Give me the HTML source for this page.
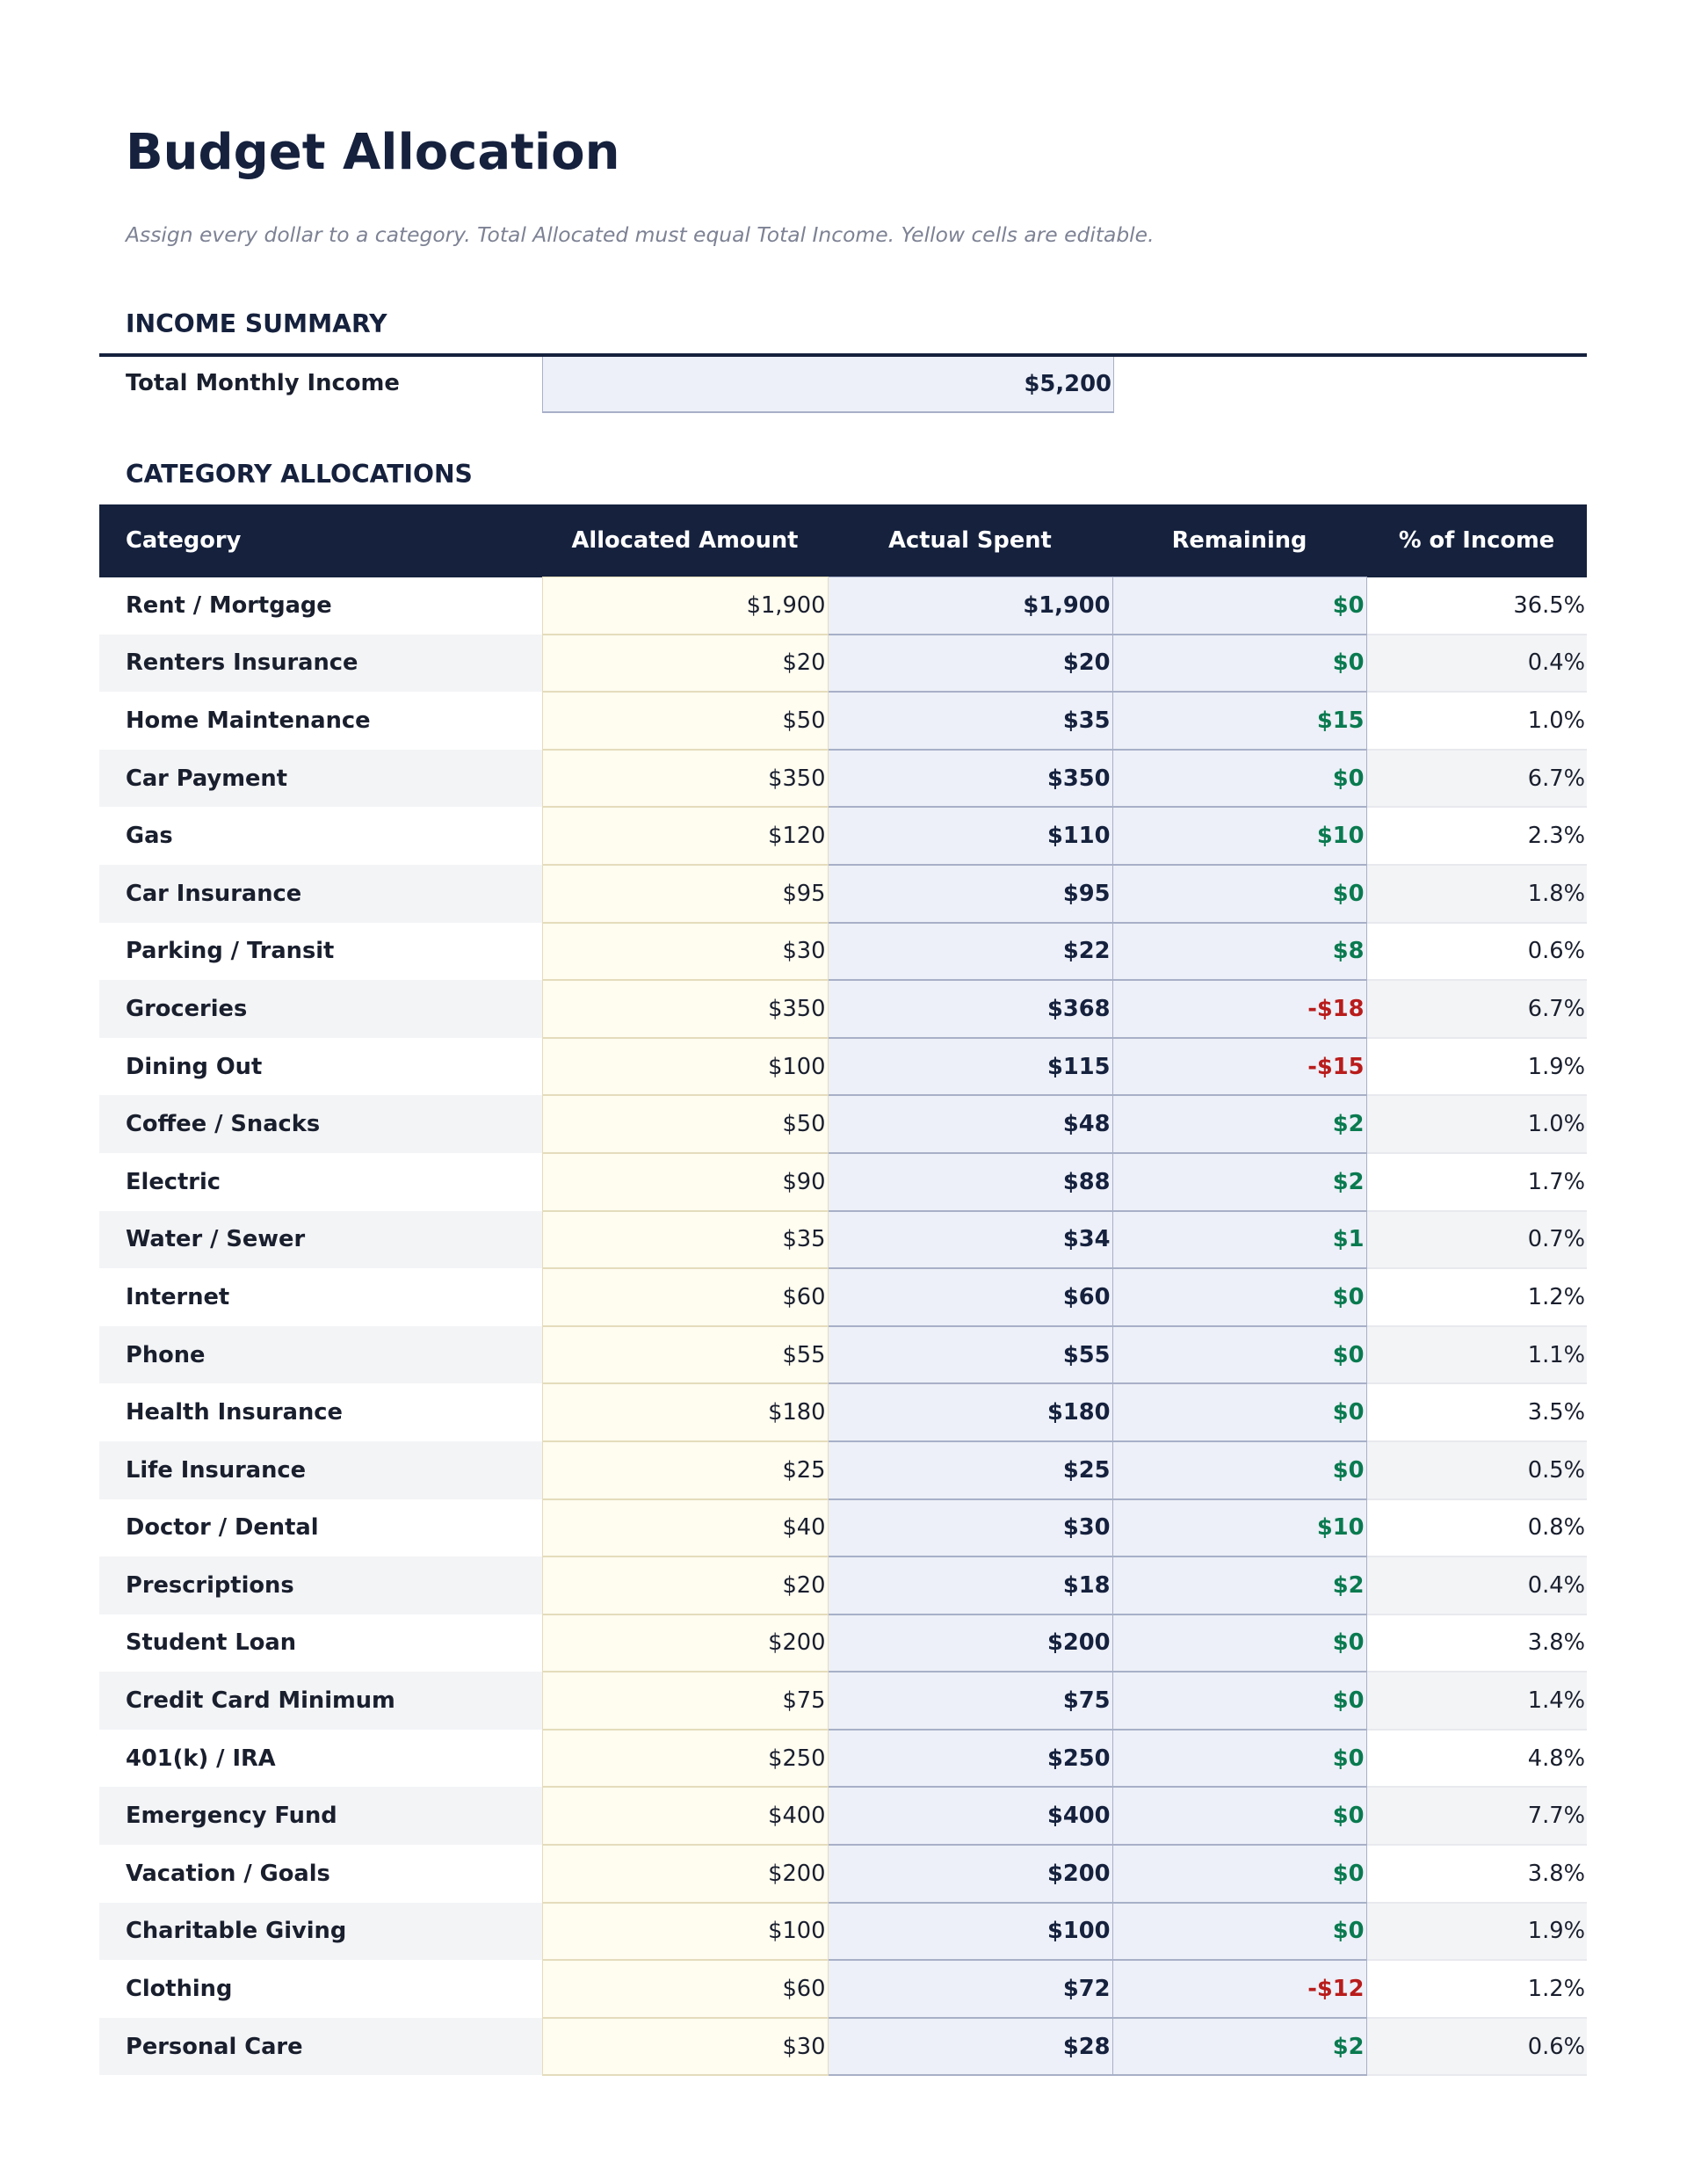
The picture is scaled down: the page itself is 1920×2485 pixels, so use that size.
<!DOCTYPE html>
<html><head><meta charset="utf-8"><style>
html,body{margin:0;padding:0;background:#fff;}
body{width:1920px;height:2485px;position:relative;font-family:"DejaVu Sans","Liberation Sans",sans-serif;color:#1a1f2e;}
.t{position:absolute;left:143px;white-space:nowrap;}
h1{position:absolute;left:143px;top:141px;margin:0;font-size:56px;font-weight:bold;color:#15213d;}
.sub{top:253px;font-size:23.4px;font-style:italic;color:#7d8294;}
.sec{font-size:28.2px;font-weight:bold;color:#15213d;}
.line{position:absolute;left:113px;width:1693px;top:402px;height:4px;background:#15213d;}
.inc{position:absolute;left:617px;top:406px;width:647px;height:62px;background:#edf0f8;border:1px solid #a8b0c8;border-top:none;border-bottom:2px solid #a8b0c8;font-size:25.8px;font-weight:bold;color:#15213d;text-align:right;line-height:62px;padding-right:2px;box-sizing:content-box;}
table{position:absolute;left:113px;top:574px;width:1693px;border-collapse:collapse;table-layout:fixed;font-size:25.7px;}
th{background:#15213d;color:#fff;height:82px;font-weight:bold;text-align:center;padding:0;}
th.c{text-align:left;padding-left:30px;}
td{height:63.6px;padding:0 2px 0 0;text-align:right;border-bottom:2px solid #e8e9ee;white-space:nowrap;}
td.c{text-align:left;padding-left:30px;font-weight:bold;}
td.a{background:#fffcf0;border:1px solid #e4dcbc;border-bottom:2px solid #e4dcbc;}
td.s{background:#edf0f8;border:1px solid #a8b0c8;border-bottom:2px solid #a8b0c8;font-weight:bold;color:#15213d;}
td.r{background:#edf0f8;border:1px solid #a8b0c8;border-bottom:2px solid #a8b0c8;font-weight:bold;color:#0a7a50;}
td.n{color:#b91c1c;}
tr.g td.c,tr.g td.p{background:#f3f4f6;}
td.c{border-bottom:none;}
</style></head><body>
<h1>Budget Allocation</h1>
<div class="t sub">Assign every dollar to a category. Total Allocated must equal Total Income. Yellow cells are editable.</div>
<div class="t sec" style="top:352px">INCOME SUMMARY</div>
<div class="line"></div>
<div class="t" style="top:421px;font-size:25.8px;font-weight:bold">Total Monthly Income</div>
<div class="inc">$5,200</div>
<div class="t sec" style="top:523px">CATEGORY ALLOCATIONS</div>
<table>
<colgroup><col style="width:504px"><col style="width:325px"><col style="width:324px"><col style="width:289px"><col style="width:251px"></colgroup>
<tr><th class="c">Category</th><th>Allocated Amount</th><th>Actual Spent</th><th>Remaining</th><th>% of Income</th></tr>
<tr><td class="c">Rent / Mortgage</td><td class="a">$1,900</td><td class="s">$1,900</td><td class="r">$0</td><td class="p">36.5%</td></tr>
<tr class="g"><td class="c">Renters Insurance</td><td class="a">$20</td><td class="s">$20</td><td class="r">$0</td><td class="p">0.4%</td></tr>
<tr><td class="c">Home Maintenance</td><td class="a">$50</td><td class="s">$35</td><td class="r">$15</td><td class="p">1.0%</td></tr>
<tr class="g"><td class="c">Car Payment</td><td class="a">$350</td><td class="s">$350</td><td class="r">$0</td><td class="p">6.7%</td></tr>
<tr><td class="c">Gas</td><td class="a">$120</td><td class="s">$110</td><td class="r">$10</td><td class="p">2.3%</td></tr>
<tr class="g"><td class="c">Car Insurance</td><td class="a">$95</td><td class="s">$95</td><td class="r">$0</td><td class="p">1.8%</td></tr>
<tr><td class="c">Parking / Transit</td><td class="a">$30</td><td class="s">$22</td><td class="r">$8</td><td class="p">0.6%</td></tr>
<tr class="g"><td class="c">Groceries</td><td class="a">$350</td><td class="s">$368</td><td class="r n">-$18</td><td class="p">6.7%</td></tr>
<tr><td class="c">Dining Out</td><td class="a">$100</td><td class="s">$115</td><td class="r n">-$15</td><td class="p">1.9%</td></tr>
<tr class="g"><td class="c">Coffee / Snacks</td><td class="a">$50</td><td class="s">$48</td><td class="r">$2</td><td class="p">1.0%</td></tr>
<tr><td class="c">Electric</td><td class="a">$90</td><td class="s">$88</td><td class="r">$2</td><td class="p">1.7%</td></tr>
<tr class="g"><td class="c">Water / Sewer</td><td class="a">$35</td><td class="s">$34</td><td class="r">$1</td><td class="p">0.7%</td></tr>
<tr><td class="c">Internet</td><td class="a">$60</td><td class="s">$60</td><td class="r">$0</td><td class="p">1.2%</td></tr>
<tr class="g"><td class="c">Phone</td><td class="a">$55</td><td class="s">$55</td><td class="r">$0</td><td class="p">1.1%</td></tr>
<tr><td class="c">Health Insurance</td><td class="a">$180</td><td class="s">$180</td><td class="r">$0</td><td class="p">3.5%</td></tr>
<tr class="g"><td class="c">Life Insurance</td><td class="a">$25</td><td class="s">$25</td><td class="r">$0</td><td class="p">0.5%</td></tr>
<tr><td class="c">Doctor / Dental</td><td class="a">$40</td><td class="s">$30</td><td class="r">$10</td><td class="p">0.8%</td></tr>
<tr class="g"><td class="c">Prescriptions</td><td class="a">$20</td><td class="s">$18</td><td class="r">$2</td><td class="p">0.4%</td></tr>
<tr><td class="c">Student Loan</td><td class="a">$200</td><td class="s">$200</td><td class="r">$0</td><td class="p">3.8%</td></tr>
<tr class="g"><td class="c">Credit Card Minimum</td><td class="a">$75</td><td class="s">$75</td><td class="r">$0</td><td class="p">1.4%</td></tr>
<tr><td class="c">401(k) / IRA</td><td class="a">$250</td><td class="s">$250</td><td class="r">$0</td><td class="p">4.8%</td></tr>
<tr class="g"><td class="c">Emergency Fund</td><td class="a">$400</td><td class="s">$400</td><td class="r">$0</td><td class="p">7.7%</td></tr>
<tr><td class="c">Vacation / Goals</td><td class="a">$200</td><td class="s">$200</td><td class="r">$0</td><td class="p">3.8%</td></tr>
<tr class="g"><td class="c">Charitable Giving</td><td class="a">$100</td><td class="s">$100</td><td class="r">$0</td><td class="p">1.9%</td></tr>
<tr><td class="c">Clothing</td><td class="a">$60</td><td class="s">$72</td><td class="r n">-$12</td><td class="p">1.2%</td></tr>
<tr class="g"><td class="c">Personal Care</td><td class="a">$30</td><td class="s">$28</td><td class="r">$2</td><td class="p">0.6%</td></tr>
</table>
</body></html>
